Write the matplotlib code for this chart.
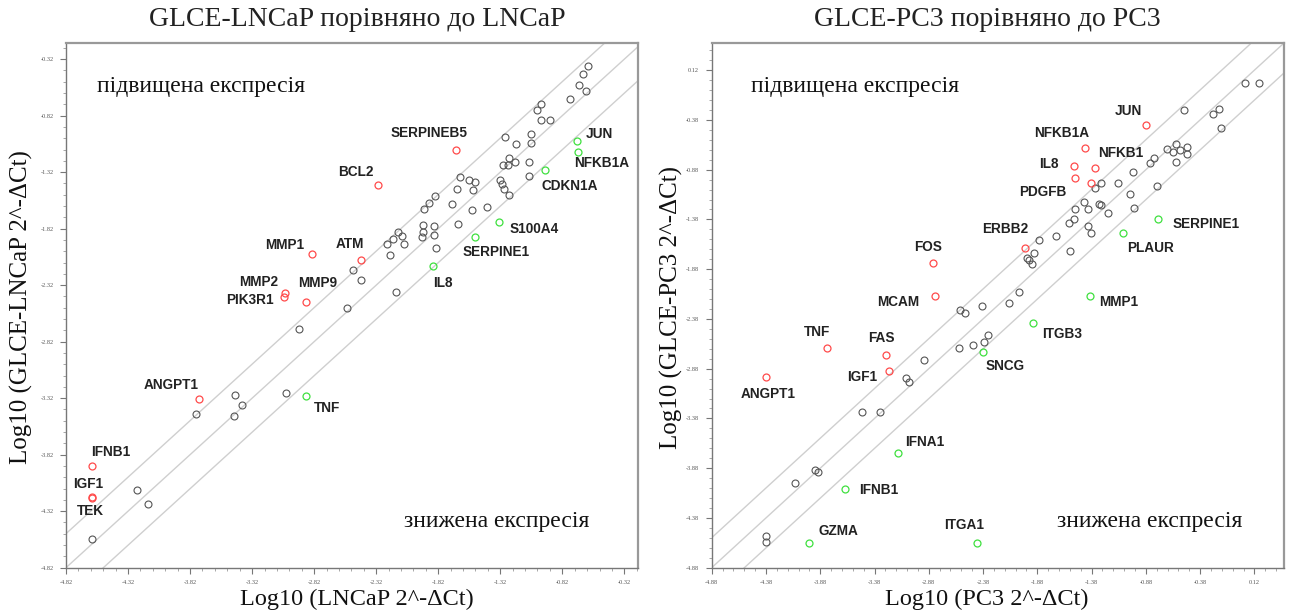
import numpy as np
import matplotlib
matplotlib.use('Agg')
import matplotlib.pyplot as plt
from matplotlib.ticker import AutoMinorLocator

# ---- GLCE-LNCaP vs LNCaP ----
lncap_gray_x = [-0.610, -0.656, -0.686, -0.626, -0.762, -0.989, -1.020, -0.995, -0.920,
                -1.283, -1.074, -1.195, -1.074, -1.253, -1.298, -1.256, -1.201, -1.086,
                -1.641, -1.571, -1.520, -1.323, -1.307, -1.665, -1.541, -1.292, -1.253,
                -1.086, -1.847, -1.898, -1.935, -1.707, -1.550, -1.429, -1.662, -1.944,
                -1.853, -2.141, -2.110, -2.186, -2.232, -2.095, -1.944, -1.953, -1.853,
                -1.838, -2.210, -2.504, -2.444, -2.162, -2.553, -2.941, -3.456, -3.404,
                -3.047, -3.771, -3.465, -4.247, -4.159, -4.613]
lncap_gray_y = [-0.384, -0.449, -0.552, -0.602, -0.670, -0.720, -0.767, -0.855, -0.861,
                -1.006, -0.985, -1.074, -1.059, -1.194, -1.259, -1.259, -1.233, -1.227,
                -1.362, -1.392, -1.410, -1.392, -1.427, -1.466, -1.480, -1.466, -1.524,
                -1.354, -1.533, -1.592, -1.642, -1.598, -1.657, -1.628, -1.775, -1.784,
                -1.796, -1.849, -1.884, -1.908, -1.952, -1.952, -1.849, -1.893, -1.878,
                -1.987, -2.055, -2.188, -2.270, -2.379, -2.521, -2.704, -3.293, -3.384,
                -3.278, -3.458, -3.479, -4.136, -4.260, -4.569]

lncap_up_genes = ['SERPINEB5', 'BCL2', 'MMP1', 'ATM', 'MMP2', 'PIK3R1', 'MMP9',
                  'ANGPT1', 'IFNB1', 'IGF1', 'TEK']
lncap_up_x = [-1.677, -2.307, -2.838, -2.444, -3.059, -3.065, -2.883, -3.750, -4.613, -4.613, -4.613]
lncap_up_y = [-1.127, -1.430, -2.046, -2.099, -2.385, -2.423, -2.468, -3.331, -3.924, -4.192, -4.200]

lncap_down_genes = ['JUN', 'NFKB1A', 'CDKN1A', 'S100A4', 'SERPINE1', 'IL8', 'TNF']
lncap_down_x = [-0.701, -0.692, -0.959, -1.329, -1.523, -1.862, -2.883]
lncap_down_y = [-1.044, -1.144, -1.303, -1.760, -1.893, -2.152, -3.305]

# ---- GLCE-PC3 vs PC3 ----
pc3_gray_x = [-0.532, -0.260, -0.209, -0.192, 0.029, 0.165, -0.600, -0.685, -0.634, -0.566,
              -0.505, -0.505, -0.600, -0.804, -0.838, -1.001, -1.297, -1.348, -1.134, -1.025,
              -0.777, -1.450, -1.314, -1.297, -1.529, -1.416, -1.229, -0.991, -1.546, -1.586,
              -1.416, -1.389, -1.706, -1.865, -1.580, -1.910, -1.978, -1.961, -1.927, -2.046,
              -2.137, -2.386, -2.590, -2.546, -2.335, -2.369, -2.471, -2.600, -2.920, -3.093,
              -3.066, -3.332, -3.491, -3.927, -3.900, -4.110, -4.383, -4.383]
pc3_gray_y = [-0.280, -0.320, -0.269, -0.464, -0.005, -0.005, -0.621, -0.675, -0.698, -0.681,
              -0.655, -0.725, -0.799, -0.765, -0.816, -0.906, -1.017, -1.067, -1.017, -1.124,
              -1.043, -1.201, -1.228, -1.234, -1.274, -1.274, -1.318, -1.268, -1.375, -1.418,
              -1.445, -1.519, -1.546, -1.586, -1.697, -1.713, -1.770, -1.787, -1.827, -2.112,
              -2.223, -2.246, -2.290, -2.316, -2.542, -2.615, -2.642, -2.676, -2.793, -2.977,
              -3.011, -3.319, -3.312, -3.899, -3.922, -4.033, -4.562, -4.626]

pc3_up_genes = ['JUN', 'NFKB1A', 'IL8', 'NFKB1', 'PDGFB', '', 'ERBB2', 'FOS', 'MCAM',
                'TNF', 'FAS', 'IGF1', 'ANGPT1']
pc3_up_x = [-0.879, -1.440, -1.546, -1.349, -1.529, -1.383, -1.995, -2.845, -2.825,
            -3.821, -3.270, -3.247, -4.383]
pc3_up_y = [-0.430, -0.665, -0.839, -0.859, -0.966, -1.017, -1.670, -1.820, -2.149,
            -2.669, -2.743, -2.904, -2.961]

pc3_down_genes = ['SERPINE1', 'PLAUR', 'MMP1', 'ITGB3', 'SNCG', 'IFNA1', 'IFNB1', 'GZMA', 'ITGA1']
pc3_down_x = [-0.770, -1.093, -1.399, -1.920, -2.376, -3.161, -3.651, -3.985, -2.437]
pc3_down_y = [-1.375, -1.519, -2.146, -2.418, -2.716, -3.724, -4.086, -4.636, -4.636]

# label offsets (data units) for the gene names
lncap_up_off = [(-0.22, 0.15), (-0.18, 0.11), (-0.22, 0.085), (-0.085, 0.14), (-0.21, 0.094),
                (-0.27, -0.024), (0.09, 0.17), (-0.22, 0.13), (0.15, 0.127), (-0.03, 0.11),
                (-0.007, -0.116)]
lncap_down_off = [(0.18, 0.06), (0.19, -0.095), (0.20, -0.14), (0.285, -0.065),
                  (0.17, -0.135), (0.08, -0.153), (0.17, -0.106)]
pc3_up_off = [(-0.163, 0.14), (-0.215, 0.158), (-0.228, 0.013), (0.239, 0.144), (-0.296, -0.134),
              (0, 0), (-0.177, 0.191), (-0.044, 0.167), (-0.333, -0.057), (-0.092, 0.154),
              (-0.051, 0.168), (-0.244, -0.057), (0.024, -0.174)]
pc3_down_off = [(0.442, -0.05), (0.255, -0.151), (0.272, -0.06), (0.265, -0.117), (0.204, -0.134),
                (0.248, 0.11), (0.313, -0.014), (0.273, 0.128), (-0.119, 0.185)]

fold = np.log10(2)

plt.rcParams['font.family'] = ['Liberation Serif', 'DejaVu Serif']
fig = plt.figure(figsize=(12.89, 6.15), dpi=100)

panels = [
    dict(rect=[66 / 1289, 47.3 / 615, 572 / 1289, 524.4 / 615],
         xlim=(-4.82, -0.21), ylim=(-4.82, -0.18), ticks=np.arange(-4.82, -0.3, 0.5),
         gray=(lncap_gray_x, lncap_gray_y),
         up=(lncap_up_genes, lncap_up_x, lncap_up_y, lncap_up_off),
         down=(lncap_down_genes, lncap_down_x, lncap_down_y, lncap_down_off),
         title='GLCE-LNCaP порівняно до LNCaP', title_x=357 / 1289,
         xlabel='Log10 (LNCaP 2^-ΔCt)', ylabel='Log10 (GLCE-LNCaP 2^-ΔCt)', ylabel_x=21 / 1289,
         upx=0.055, downx=0.591),
    dict(rect=[711.7 / 1289, 47.3 / 615, 572 / 1289, 524.4 / 615],
         xlim=(-4.88, 0.39), ylim=(-4.88, 0.39), ticks=np.arange(-4.88, 0.2, 0.5),
         gray=(pc3_gray_x, pc3_gray_y),
         up=(pc3_up_genes, pc3_up_x, pc3_up_y, pc3_up_off),
         down=(pc3_down_genes, pc3_down_x, pc3_down_y, pc3_down_off),
         title='GLCE-PC3 порівняно до PC3', title_x=987 / 1289,
         xlabel='Log10 (PC3 2^-ΔCt)', ylabel='Log10 (GLCE-PC3 2^-ΔCt)', ylabel_x=671 / 1289,
         upx=0.069, downx=0.603),
]

for p in panels:
    ax = fig.add_axes(p['rect'])
    ax.set_xlim(p['xlim'])
    ax.set_ylim(p['ylim'])

    # identity line and 2-fold lines
    lo, hi = -6, 1.5
    for c in (fold, 0, -fold):
        ax.plot([lo, hi], [lo + c, hi + c], color='#cfcfcf', lw=1.0, zorder=1)

    gx, gy = p['gray']
    ax.plot(gx, gy, 'o', ms=5, mfc='none', mec='#555555', mew=0.8, zorder=3)

    for (names, xs, ys, offs), col in ((p['up'], '#ff4a4a'), (p['down'], '#3fe03f')):
        ax.plot(xs, ys, 'o', ms=5, mfc='none', mec=col, mew=0.9, zorder=4)
        for n, x, y, (dx, dy) in zip(names, xs, ys, offs):
            if n:
                ax.text(x + dx, y + dy, n, ha='center', va='center', fontsize=9.8,
                        fontweight='bold', family=['Liberation Sans', 'DejaVu Sans'],
                        color='#222222', zorder=5)

    ax.text(p['upx'], 0.917, 'підвищена експресія', transform=ax.transAxes,
            ha='left', va='center', fontsize=17, color='#111111')
    ax.text(p['downx'], 0.088, 'знижена експресія', transform=ax.transAxes,
            ha='left', va='center', fontsize=17, color='#111111')

    ax.set_xticks(p['ticks'])
    ax.set_yticks(p['ticks'])
    ax.set_xticklabels(['%.2f' % t for t in p['ticks']])
    ax.set_yticklabels(['%.2f' % t for t in p['ticks']])
    ax.xaxis.set_minor_locator(AutoMinorLocator(5))
    ax.yaxis.set_minor_locator(AutoMinorLocator(5))
    ax.tick_params(which='major', length=4, width=0.8, color='#777777', labelsize=4.5,
                   labelcolor='#555555', pad=5)
    ax.tick_params(which='minor', length=2, width=0.6, color='#999999')
    for s in ax.spines.values():
        s.set_color('#999999')
        s.set_linewidth(1.6)
    ax.spines['left'].set_linewidth(1.0)
    ax.spines['bottom'].set_linewidth(1.0)
    ax.spines['left'].set_color('#777777')
    ax.spines['bottom'].set_color('#777777')

    fig.text(p['title_x'], 0.968, p['title'], ha='center', va='center', fontsize=20,
             color='#222222')
    fig.text(p['title_x'], 0.025, p['xlabel'], ha='center', va='center', fontsize=17.5,
             color='#111111')
    fig.text(p['ylabel_x'], 0.50, p['ylabel'], ha='center', va='center', rotation=90,
             fontsize=18, color='#111111')

fig.savefig('out.png', dpi=100)
